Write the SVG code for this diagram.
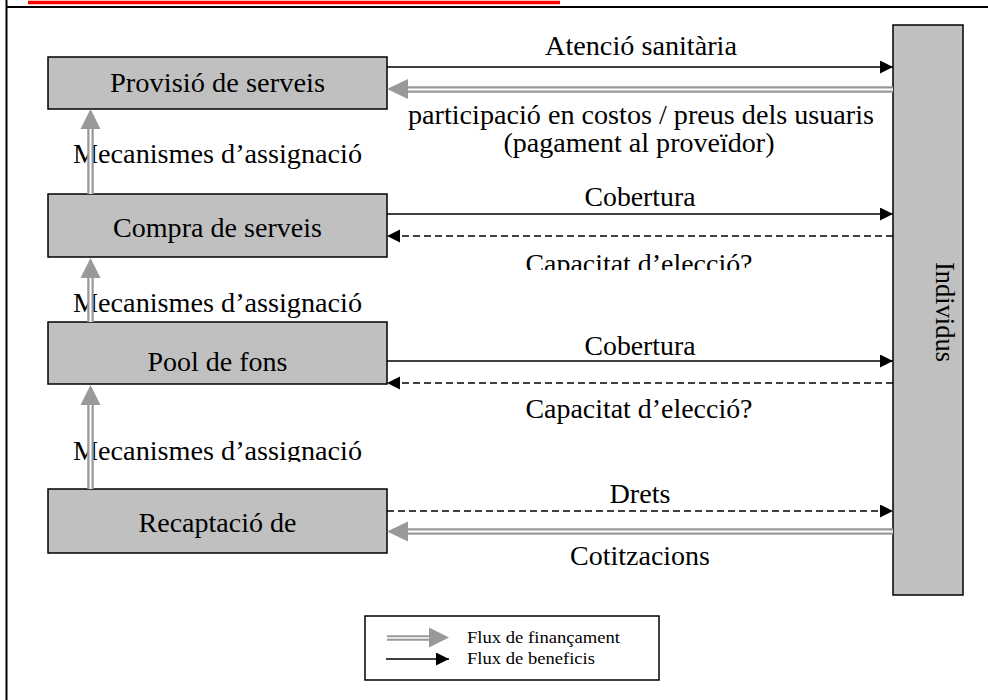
<svg xmlns="http://www.w3.org/2000/svg" width="988" height="700" viewBox="0 0 988 700">
<style>
.box{fill:#c0c0c0;stroke:#000;stroke-width:1.5}
.t{font-family:"Liberation Serif","Times New Roman",serif;font-size:27px;fill:#000}
.tm{text-anchor:middle}
.lg{font-family:"Liberation Serif","Times New Roman",serif;font-size:17px;fill:#000}
.bl{stroke:#000;stroke-width:1.5;fill:none}
.dash{stroke-dasharray:7 4}
.g1{stroke:#999;stroke-width:6.5;fill:none}
.g2{stroke:#fff;stroke-width:2;fill:none}
.gh{fill:#999}
</style>
<defs>
<marker id="ah" markerUnits="userSpaceOnUse" markerWidth="14" markerHeight="14" refX="13" refY="6.5" orient="auto" viewBox="0 0 14 14">
<path d="M0,0 L13,6.5 L0,13 Z" fill="#000"/>
</marker>
<clipPath id="c1"><rect x="0" y="0" width="988" height="270"/></clipPath>
<clipPath id="c2"><rect x="0" y="0" width="988" height="462"/></clipPath>
</defs>
<rect width="988" height="700" fill="#fff"/>
<g id="frame">
<line x1="28" y1="2.5" x2="560" y2="2.5" stroke="#f00" stroke-width="3.5"/>
<line x1="6.5" y1="0" x2="6.5" y2="7" stroke="#000" stroke-width="2"/>
<line x1="6" y1="7" x2="988" y2="7" stroke="#000" stroke-width="2"/>
<line x1="6.5" y1="7" x2="6.5" y2="700" stroke="#000" stroke-width="2"/>
</g>
<g id="provisio"><rect class="box" x="48" y="57" width="339" height="52"/><text class="t tm" x="217.5" y="92" textLength="215" lengthAdjust="spacingAndGlyphs">Provisió de serveis</text></g>
<g id="compra"><rect class="box" x="48" y="194" width="339" height="63"/><text class="t tm" x="217.5" y="237" textLength="209" lengthAdjust="spacingAndGlyphs">Compra de serveis</text></g>
<g id="pool"><rect class="box" x="48" y="322" width="339" height="62"/><text class="t tm" x="217.5" y="371" textLength="140" lengthAdjust="spacingAndGlyphs">Pool de fons</text></g>
<g id="recaptacio"><rect class="box" x="48" y="489" width="339" height="64"/><text class="t tm" x="217.5" y="532" textLength="158" lengthAdjust="spacingAndGlyphs">Recaptació de</text></g>
<g id="individus"><rect class="box" x="893" y="25" width="70" height="570"/><text class="t tm" transform="translate(928,312) rotate(90)" x="0" y="-8" textLength="100" lengthAdjust="spacingAndGlyphs">Individus</text></g>
<g id="labels">
<text class="t" x="73" y="163" textLength="289" lengthAdjust="spacingAndGlyphs">Mecanismes d’assignació</text>
<text class="t" x="73" y="312" textLength="289" lengthAdjust="spacingAndGlyphs">Mecanismes d’assignació</text>
<g clip-path="url(#c2)"><text class="t" x="73" y="460" textLength="289" lengthAdjust="spacingAndGlyphs">Mecanismes d’assignació</text></g>
<text class="t tm" x="641" y="55" textLength="192" lengthAdjust="spacingAndGlyphs">Atenció sanitària</text>
<text class="t tm" x="641" y="124" textLength="466" lengthAdjust="spacingAndGlyphs">participació en costos / preus dels usuaris</text>
<text class="t tm" x="639" y="152" textLength="271" lengthAdjust="spacingAndGlyphs">(pagament al proveïdor)</text>
<text class="t tm" x="640" y="206" textLength="111" lengthAdjust="spacingAndGlyphs">Cobertura</text>
<g clip-path="url(#c1)"><text class="t tm" x="639" y="273" textLength="227" lengthAdjust="spacingAndGlyphs">Capacitat d’elecció?</text></g>
<text class="t tm" x="640" y="355" textLength="111" lengthAdjust="spacingAndGlyphs">Cobertura</text>
<text class="t tm" x="639" y="418" textLength="227" lengthAdjust="spacingAndGlyphs">Capacitat d’elecció?</text>
<text class="t tm" x="640" y="503" textLength="61" lengthAdjust="spacingAndGlyphs">Drets</text>
<text class="t tm" x="640" y="565" textLength="140" lengthAdjust="spacingAndGlyphs">Cotitzacions</text>
</g>
<g id="connectors">
<line class="bl" x1="387" y1="67" x2="893" y2="67" marker-end="url(#ah)"/>
<line class="g1" x1="893" y1="89.5" x2="407" y2="89.5"/><line class="g2" x1="893" y1="89.5" x2="407" y2="89.5"/>
<polygon class="gh" points="387,89 408,79 408,99"/>
<line class="bl" x1="387" y1="214" x2="893" y2="214" marker-end="url(#ah)"/>
<line class="bl dash" x1="893" y1="236" x2="387" y2="236" marker-end="url(#ah)"/>
<line class="bl" x1="387" y1="361" x2="893" y2="361" marker-end="url(#ah)"/>
<line class="bl dash" x1="893" y1="383" x2="387" y2="383" marker-end="url(#ah)"/>
<line class="bl dash" x1="387" y1="511" x2="893" y2="511" marker-end="url(#ah)"/>
<line class="g1" x1="893" y1="531.5" x2="407" y2="531.5"/><line class="g2" x1="893" y1="531.5" x2="407" y2="531.5"/>
<polygon class="gh" points="387,531.5 408,521.5 408,541.5"/>
<line class="g1" x1="90.5" y1="194" x2="90.5" y2="128"/><line class="g2" x1="90.5" y1="194" x2="90.5" y2="128"/>
<polygon class="gh" points="90.5,109 80.5,129 100.5,129"/>
<line class="g1" x1="90.5" y1="322" x2="90.5" y2="277"/><line class="g2" x1="90.5" y1="322" x2="90.5" y2="277"/>
<polygon class="gh" points="90.5,258 80.5,278 100.5,278"/>
<line class="g1" x1="90.5" y1="489" x2="90.5" y2="404"/><line class="g2" x1="90.5" y1="489" x2="90.5" y2="404"/>
<polygon class="gh" points="90.5,385 80.5,405 100.5,405"/>
</g>
<g id="legend">
<rect x="365" y="616" width="294" height="64" fill="#fff" stroke="#000" stroke-width="1.5"/>
<line x1="387" y1="638" x2="430" y2="638" stroke="#999" stroke-width="5.5"/>
<line x1="387" y1="638" x2="430" y2="638" stroke="#fff" stroke-width="1.5"/>
<polygon class="gh" points="449,637.5 429,627.5 429,647.5"/>
<line class="bl" x1="386" y1="659" x2="449" y2="659" marker-end="url(#ah)"/>
<text class="lg" x="467" y="643" textLength="153" lengthAdjust="spacingAndGlyphs">Flux de finançament</text>
<text class="lg" x="467" y="664" textLength="128" lengthAdjust="spacingAndGlyphs">Flux de beneficis</text>
</g>
</svg>
